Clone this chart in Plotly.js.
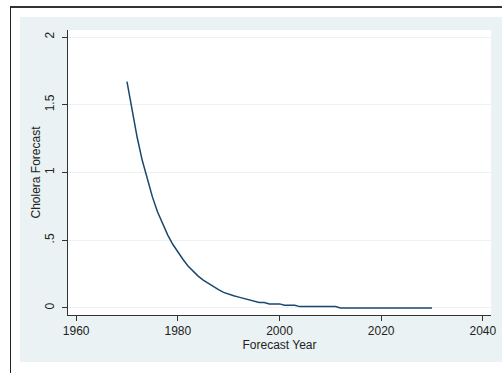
<!DOCTYPE html>
<html>
<head>
<meta charset="utf-8">
<script src="https://cdn.plot.ly/plotly-3.0.1.min.js"></script>
<style>
  html, body { margin: 0; padding: 0; background: #ffffff; overflow: hidden; }
  #chart { position: absolute; left: 0; top: 0; width: 502px; height: 373px; }
</style>
</head>
<body>
<div id="chart"></div>
<script>
const years = [
  1970, 1971, 1972, 1973, 1974, 1975, 1976, 1977, 1978, 1979,
  1980, 1981, 1982, 1983, 1984, 1985, 1986, 1987, 1988, 1989,
  1990, 1991, 1992, 1993, 1994, 1995, 1996, 1997, 1998, 1999,
  2000, 2001, 2002, 2003, 2004, 2005, 2006, 2007, 2008, 2009,
  2010, 2011, 2012, 2013, 2014, 2015, 2016, 2017, 2018, 2019,
  2020, 2021, 2022, 2023, 2024, 2025, 2026, 2027, 2028, 2029,
  2030
];
const choleraForecast = [
  1.67, 1.45, 1.26, 1.09, 0.95, 0.82, 0.71, 0.62, 0.54, 0.47,
  0.41, 0.36, 0.31, 0.27, 0.235, 0.205, 0.18, 0.155, 0.135, 0.115,
  0.10, 0.09, 0.08, 0.07, 0.06, 0.05, 0.04, 0.04, 0.03, 0.03,
  0.03, 0.02, 0.02, 0.02, 0.01, 0.01, 0.01, 0.01, 0.01, 0.01,
  0.01, 0.01, 0, 0, 0, 0, 0, 0, 0, 0,
  0, 0, 0, 0, 0, 0, 0, 0, 0, 0,
  0
];
const xTickVals = [1960, 1980, 2000, 2020, 2040];
const xTickText = ['1960', '1980', '2000', '2020', '2040'];
const yTickVals = [0, 0.5, 1, 1.5, 2];
const yTickText = ['0', '.5', '1', '1.5', '2'];

const trace = {
  x: years,
  y: choleraForecast,
  type: 'scatter',
  mode: 'lines',
  line: { color: '#1a476f', width: 1.5 },
  hoverinfo: 'skip'
};

const font = { family: 'Liberation Sans, Arial, sans-serif', size: 12, color: '#222' };

// plot area: x 68..491 px, y 30..315 px
const layout = {
  width: 502,
  height: 373,
  margin: { l: 68, r: 11, t: 30, b: 58, pad: 0 },
  paper_bgcolor: '#ffffff',
  plot_bgcolor: '#ffffff',
  font: font,
  showlegend: false,
  shapes: [
    { type: 'rect', xref: 'paper', yref: 'paper', layer: 'below',
      x0: -0.11348, x1: 1.026, y0: -0.16491, y1: 1.04561,
      fillcolor: '#eaf2f3', line: { width: 0 } },
    { type: 'rect', xref: 'paper', yref: 'paper', layer: 'below',
      x0: 0, x1: 1, y0: 0, y1: 1,
      fillcolor: '#ffffff', line: { width: 0 } },
    { type: 'line', xref: 'paper', yref: 'paper', layer: 'above',
      x0: -0.13712, x1: 1.026, y0: 1.0807, y1: 1.0807,
      line: { color: '#333', width: 2 } },
    { type: 'line', xref: 'paper', yref: 'paper', layer: 'above',
      x0: -0.13593, x1: -0.13593, y0: 1.084, y1: -0.21,
      line: { color: '#222', width: 1 } }
  ],
  xaxis: {
    range: [1958.4, 2041.6],
    tickmode: 'array',
    tickvals: xTickVals,
    ticktext: xTickText,
    ticks: 'outside',
    ticklen: 5,
    tickcolor: '#333',
    tickwidth: 1,
    showline: true,
    linecolor: '#333',
    linewidth: 1,
    showgrid: false,
    zeroline: false,
    automargin: false,
    tickfont: font,
    title: { text: 'Forecast Year', font: font, standoff: 0 }
  },
  yaxis: {
    range: [-0.052, 2.052],
    tickmode: 'array',
    tickvals: yTickVals,
    ticktext: yTickText,
    tickangle: -90,
    ticks: 'outside',
    ticklen: 5,
    ticklabelstandoff: 3,
    tickcolor: '#333',
    tickwidth: 1,
    showline: true,
    linecolor: '#333',
    linewidth: 1,
    showgrid: true,
    gridcolor: '#eaf2f3',
    gridwidth: 1,
    zeroline: false,
    automargin: false,
    tickfont: font,
    title: { text: 'Cholera Forecast', font: font, standoff: 0 }
  }
};

Plotly.newPlot('chart', [trace], layout, { displayModeBar: false, staticPlot: true });
</script>
</body>
</html>
